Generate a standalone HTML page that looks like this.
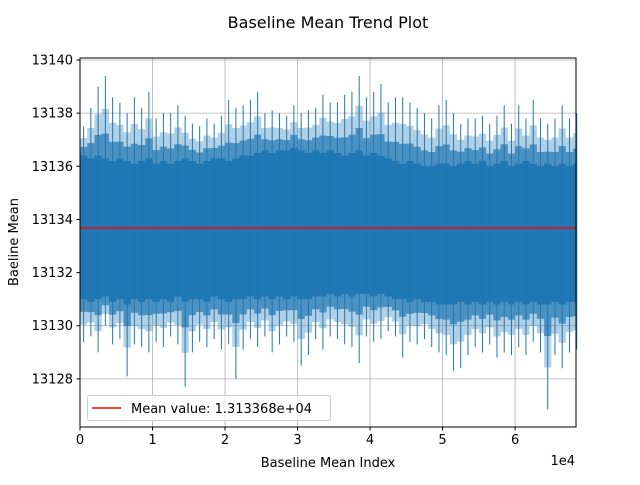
<!DOCTYPE html>
<html><head><meta charset="utf-8"><style>
body{margin:0;background:#fff}
svg text{font-family:"DejaVu Sans","Liberation Sans",sans-serif;fill:#000}
</style></head><body>
<svg id="chart" width="640" height="480">
<text x="328" y="28" font-size="16" text-anchor="middle">Baseline Mean Trend Plot</text>
<g id="grid"></g>
<g id="series"></g>
<line id="meanLine" stroke="#ff0000" stroke-width="1.5"/>
<rect x="80" y="58" width="496" height="369" fill="none" stroke="#000" stroke-width="1"/>
<g id="ticks"></g>
<text x="328" y="467" font-size="13" text-anchor="middle">Baseline Mean Index</text>
<text x="575" y="465" font-size="13" text-anchor="end">1e4</text>
<text transform="translate(18,242) rotate(-90)" font-size="13" text-anchor="middle">Baeline Mean</text>
<g>
<rect x="87.5" y="395.5" width="243" height="25" rx="2" fill="#fff" fill-opacity="0.8" stroke="#ccc"/>
<line x1="92" y1="408" x2="121" y2="408" stroke="#ff0000" stroke-width="1.5"/>
<text x="131" y="413" font-size="13">Mean value: 1.313368e+04</text>
</g>
</svg>
<script>
const binSize = 1000;
const peakHi = [13137.5,13138.2,13139.0,13139.4,13138.6,13138.4,13138.0,13138.6,13138.2,13138.8,13137.8,13138.0,13138.0,13138.3,13137.9,13137.6,13137.5,13137.8,13137.6,13137.9,13138.5,13138.2,13138.3,13138.5,13138.8,13138.0,13138.1,13138.0,13137.9,13138.3,13138.0,13138.1,13138.2,13138.7,13138.4,13138.4,13138.7,13138.8,13139.4,13138.6,13138.8,13139.1,13138.4,13138.6,13138.6,13138.4,13138.2,13138.0,13137.8,13138.3,13138.5,13138.0,13137.6,13137.8,13137.8,13137.9,13137.6,13137.9,13138.3,13137.6,13138.3,13137.8,13138.5,13137.8,13137.6,13137.8,13138.3,13137.8,13138.0];
const peakLo = [13129.4,13129.6,13129.0,13130.0,13129.3,13129.5,13128.1,13129.3,13129.2,13129.0,13129.4,13129.2,13129.6,13129.3,13127.7,13129.0,13129.4,13129.2,13129.5,13129.1,13129.3,13128.0,13129.1,13129.5,13129.2,13129.6,13129.0,13129.3,13129.6,13129.4,13128.5,13128.9,13129.5,13129.1,13129.6,13129.5,13129.3,13129.2,13128.6,13129.6,13129.4,13129.5,13129.8,13129.6,13128.8,13129.4,13129.3,13129.5,13129.2,13129.0,13128.9,13128.3,13128.4,13128.9,13129.2,13129.0,13129.3,13128.8,13129.0,13128.9,13129.2,13128.9,13129.4,13129.0,13126.85,13128.9,13128.4,13129.0,13129.1];
const coreHi = [13136.4,13136.3,13136.4,13136.3,13136.2,13136.3,13136.2,13136.1,13136.2,13136.3,13136.1,13136.2,13136.1,13136.2,13136.3,13136.2,13136.1,13136.2,13136.3,13136.3,13136.2,13136.3,13136.4,13136.4,13136.5,13136.6,13136.5,13136.6,13136.6,13136.7,13136.6,13136.5,13136.6,13136.5,13136.6,13136.5,13136.4,13136.5,13136.6,13136.4,13136.5,13136.4,13136.3,13136.2,13136.1,13136.2,13136.1,13136.0,13136.0,13136.1,13136.1,13136.0,13136.1,13136.2,13136.1,13136.2,13136.0,13136.1,13136.2,13136.0,13136.1,13136.2,13136.1,13136.0,13136.1,13136.0,13136.1,13136.0,13136.1];
const coreLo = [13131.0,13130.9,13131.0,13131.1,13130.9,13131.0,13130.8,13131.0,13130.9,13131.0,13130.9,13131.0,13130.9,13131.1,13130.9,13131.0,13131.0,13130.9,13131.1,13131.0,13130.9,13131.0,13131.0,13131.1,13131.0,13131.1,13131.0,13131.1,13131.0,13131.1,13131.0,13131.0,13131.1,13131.1,13131.2,13131.1,13131.2,13131.1,13131.2,13131.2,13131.1,13131.2,13131.1,13131.0,13131.0,13130.9,13131.0,13130.9,13130.9,13130.8,13130.8,13130.8,13130.9,13130.8,13130.9,13130.8,13130.9,13130.8,13130.9,13130.8,13130.9,13130.8,13130.9,13130.8,13130.8,13130.9,13130.8,13130.9,13130.9];
const meanValue = 13133.68;
const xTicks = [0,1,2,3,4,5,6];
const yTicks = [13128,13130,13132,13134,13136,13138,13140];
const xMax = 68400, yMin = 13126.19, yMax = 13140.075;
const L=80,R=576,T=58,B=427;
const NS="http://www.w3.org/2000/svg";
function sx(v){return L+(v/xMax)*(R-L);}
function sy(v){return B-(v-yMin)/(yMax-yMin)*(B-T);}
function mk(tag,attrs,parent){const e=document.createElementNS(NS,tag);for(const k in attrs)e.setAttribute(k,attrs[k]);parent.appendChild(e);return e;}
const grid=document.getElementById('grid'),ticks=document.getElementById('ticks'),series=document.getElementById('series');
xTicks.forEach(t=>{const x=sx(t*1e4);
 const g=mk('line',{x1:x,x2:x,y1:T,y2:B,stroke:'#b0b0b0','stroke-width':0.8},grid);
 
 
 const tk=mk('line',{x1:x,x2:x,y1:B,y2:B+3.5,stroke:'#000'},ticks);
 
 
 const tx=mk('text',{x:x,y:B+17,'font-size':13,'text-anchor':'middle'},ticks);tx.textContent=t;
 
 
});
yTicks.forEach(t=>{const y=sy(t);
 const g=mk('line',{x1:L,x2:R,y1:y,y2:y,stroke:'#b0b0b0','stroke-width':0.8},grid);
 
 
 const tk=mk('line',{x1:L-3.5,x2:L,y1:y,y2:y,stroke:'#000'},ticks);
 
 
 const tx=mk('text',{x:L-7,y:y+4.5,'font-size':13,'text-anchor':'end'},ticks);tx.textContent=t;
 
 
});
const n=coreHi.length;
function band(frac,op,name){
 let up=[],dn=[];
 for(let i=0;i<n;i++){const x0=sx(i*binSize),x1=sx(Math.min((i+1)*binSize,xMax));
  const h=coreHi[i]+(peakHi[i]-coreHi[i])*frac,l=coreLo[i]-(coreLo[i]-peakLo[i])*frac;
  up.push(x0+','+sy(h),x1+','+sy(h));dn.unshift(x1+','+sy(l),x0+','+sy(l));}
 const p=mk('polygon',{points:up.concat(dn).join(' '),fill:'#1f77b4','fill-opacity':op},series);
 
 
}
band(0.6,0.35,'noise-fuzz-outer');
band(0.3,0.7,'noise-fuzz-inner');
band(0,1,'noise-core');
for(let i=0;i<n;i++){const x=sx((i+0.5)*binSize);
 const s=mk('line',{x1:x,x2:x,y1:sy(peakLo[i]),y2:sy(peakHi[i]),stroke:'#1f77b4','stroke-width':1},series);
 
 
}
const m=document.getElementById('meanLine');
m.setAttribute('x1',L);m.setAttribute('x2',R);m.setAttribute('y1',sy(meanValue));m.setAttribute('y2',sy(meanValue));
</script>
</body></html>
